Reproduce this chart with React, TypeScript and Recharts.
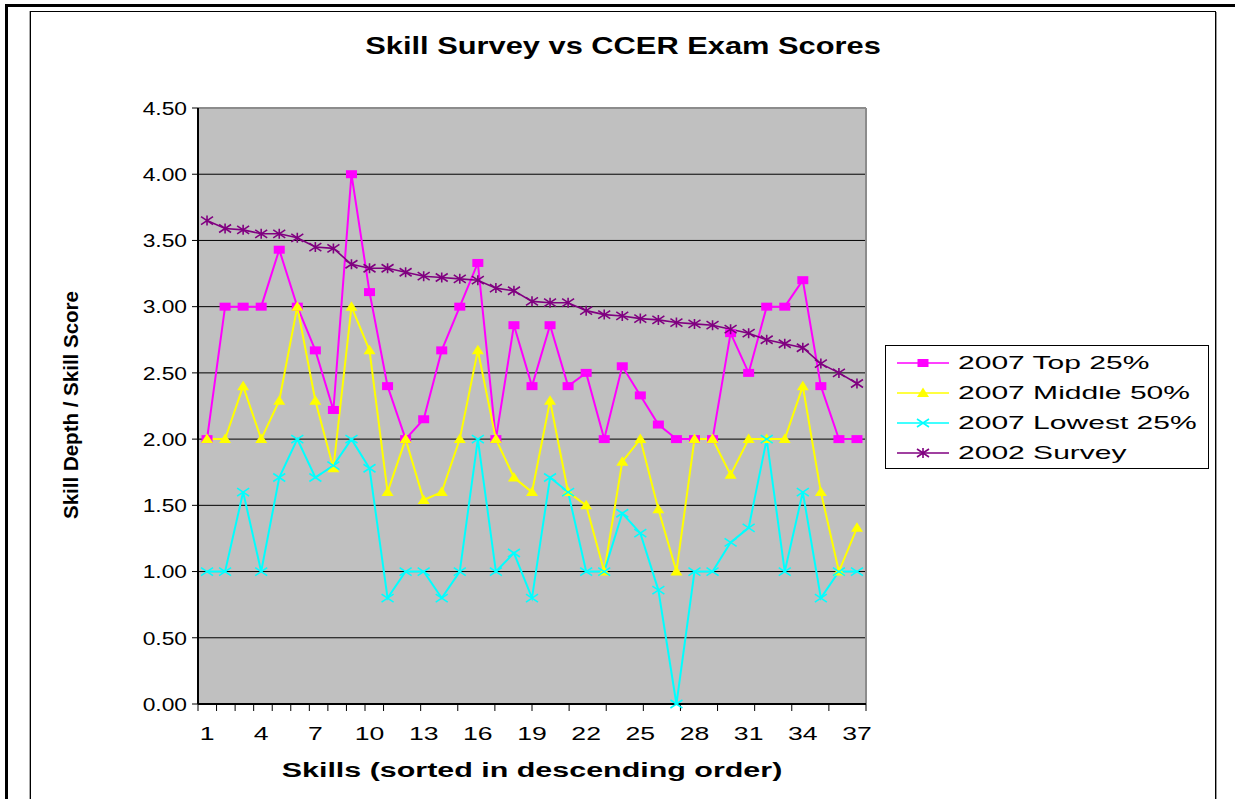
import { LineChart, Line, XAxis, YAxis, CartesianGrid, Legend, ReferenceLine } from "recharts";

const skills = ["1", "2", "3", "4", "5", "6", "7", "8", "9", "10", "11", "12", "13", "14", "15", "16", "17", "18", "19",
  "20", "21", "22", "23", "24", "25", "26", "27", "28", "29", "30", "31", "32", "33", "34", "35", "36", "37"];
const top25 = [2.0, 3.0, 3.0, 3.0, 3.43, 3.0, 2.67, 2.22, 4.0, 3.11, 2.4, 2.0, 2.15, 2.67, 3.0, 3.33, 2.0, 2.86, 2.4,
  2.86, 2.4, 2.5, 2.0, 2.55, 2.33, 2.11, 2.0, 2.0, 2.0, 2.8, 2.5, 3.0, 3.0, 3.2, 2.4, 2.0, 2.0];
const middle50 = [2.0, 2.0, 2.4, 2.0, 2.29, 3.0, 2.29, 1.78, 3.0, 2.67, 1.6, 2.0, 1.54, 1.6, 2.0, 2.67, 2.0, 1.71, 1.6,
  2.29, 1.6, 1.5, 1.0, 1.83, 2.0, 1.47, 1.0, 2.0, 2.0, 1.73, 2.0, 2.0, 2.0, 2.4, 1.6, 1.0, 1.33];
const lowest25 = [1.0, 1.0, 1.6, 1.0, 1.71, 2.0, 1.71, 1.8, 2.0, 1.78, 0.8, 1.0, 1.0, 0.8, 1.0, 2.0, 1.0, 1.14, 0.8,
  1.71, 1.6, 1.0, 1.0, 1.44, 1.29, 0.86, 0.0, 1.0, 1.0, 1.22, 1.33, 2.0, 1.0, 1.6, 0.8, 1.0, 1.0];
const survey2002 = [3.65, 3.59, 3.58, 3.55, 3.55, 3.52, 3.45, 3.44, 3.32, 3.29, 3.29, 3.26, 3.23, 3.22, 3.21, 3.2, 3.14,
  3.12, 3.04, 3.03, 3.03, 2.97, 2.94, 2.93, 2.91, 2.9, 2.88, 2.87, 2.86, 2.83, 2.8, 2.75, 2.72, 2.69, 2.57, 2.5, 2.42];
const yTicks = [0, 0.5, 1, 1.5, 2, 2.5, 3, 3.5, 4, 4.5];
const seriesOrder = ["top", "middle", "lowest", "survey"];
const labelEvery = 3;

const data = skills.map((s, i) => ({
  skill: s, top: top25[i], middle: middle50[i], lowest: lowest25[i], survey: survey2002[i],
}));
// small tick marks along the bottom edge
const edgeTicks = skills.map((_, i) => i);
const edgeDomain = [0, skills.length];
const yDomain = [0, 4.5];
const lastSkill = skills[skills.length - 1];

const FONT = '"Liberation Sans", Arial, sans-serif';
const MAGENTA = "#FF00FF", YELLOW = "#FFFF00", CYAN = "#00FFFF", PURPLE = "#800080";

function SquareDot({ cx, cy }: any) {
  if (cx == null || cy == null) return null;
  return <rect x={cx - 5.5} y={cy - 4} width={11} height={8} fill={MAGENTA} />;
}
function TriangleDot({ cx, cy }: any) {
  if (cx == null || cy == null) return null;
  return <polygon points={`${cx},${cy - 5.5} ${cx + 6},${cy + 4} ${cx - 6},${cy + 4}`} fill={YELLOW} />;
}
function CrossDot({ cx, cy }: any) {
  if (cx == null || cy == null) return null;
  return <path d={`M${cx - 6},${cy - 4}L${cx + 6},${cy + 4}M${cx - 6},${cy + 4}L${cx + 6},${cy - 4}`}
               stroke={CYAN} strokeWidth={1.6} fill="none" />;
}
function StarDot({ cx, cy }: any) {
  if (cx == null || cy == null) return null;
  return <path d={`M${cx - 6},${cy - 4}L${cx + 6},${cy + 4}M${cx - 6},${cy + 4}L${cx + 6},${cy - 4}M${cx},${cy - 5}L${cx},${cy + 5}`}
               stroke={PURPLE} strokeWidth={1.6} fill="none" />;
}

const markers: Record<string, any> = { top: SquareDot, middle: TriangleDot, lowest: CrossDot, survey: StarDot };

function YTick({ x, y, payload }: any) {
  return (
    <text transform={`translate(${x},${y}) scale(1.2,1)`} textAnchor="end" dy="0.355em"
          fontSize={19} fontFamily={FONT} fill="#000">
      {Number(payload.value).toFixed(2)}
    </text>
  );
}

// category labels: the axis is mirrored onto the plot bottom, labels hang 23px below it
function XTick({ x, y, payload, index }: any) {
  const i = payload?.index ?? index;
  if (i % labelEvery !== 0) return null;
  return (
    <text transform={`translate(${x},${y + 23}) scale(1.4,1)`} textAnchor="middle" dy="0.71em"
          fontSize={19} fontFamily={FONT} fill="#000">
      {payload.value}
    </text>
  );
}
function NoTick() {
  return null;
}

function LegendBox({ payload }: any) {
  const items = [...(payload || [])].sort((a: any, b: any) => seriesOrder.indexOf(a.dataKey) - seriesOrder.indexOf(b.dataKey));
  return (
    <div style={{ width: 322, height: 120, border: "1px solid #000", background: "#fff", paddingTop: 2, boxSizing: "content-box" }}>
      {items.map((p: any) => {
        const M = markers[p.dataKey];
        return (
          <div key={p.dataKey} style={{ height: 30, display: "flex", alignItems: "center", whiteSpace: "nowrap" }}>
            <svg width={72} height={30} style={{ flex: "none" }}>
              <line x1={11} x2={63} y1={15} y2={15} stroke={p.color} strokeWidth={1.5} />
              <M cx={37} cy={15} />
            </svg>
            <span style={{ fontFamily: FONT, fontSize: 19, color: "#000", display: "inline-block",
                           transform: "scaleX(1.58)", transformOrigin: "left center" }}>{p.value}</span>
          </div>
        );
      })}
    </div>
  );
}

const xTick = <XTick />;
const yTick = <YTick />;
const noTick = <NoTick />;

export default function App() {
  return (
    <div style={{ position: "absolute", left: 0, top: 0, width: 1235, height: 799, background: "#fff", overflow: "hidden" }}>
      <div style={{ position: "absolute", left: 5, top: 4, width: 1300, height: 900, borderLeft: "3px solid #000", borderTop: "3px solid #000" }} />
      <div style={{ position: "absolute", left: 30, top: 11, width: 1184, height: 900, border: "1px solid #000", boxShadow: "1px 1px 0 #999, -1px 0 0 #aaa" }} />
      <div style={{ position: "absolute", left: 0, top: 0 }}>
        <LineChart width={1235} height={799} data={data} margin={{ top: 108, right: 369, bottom: 35, left: 0 }}>
          <CartesianGrid xAxisId="cat" vertical={false} stroke="#000" fill="#C0C0C0" />
          <XAxis xAxisId="edges" type="number" domain={edgeDomain} ticks={edgeTicks} allowDataOverflow
                 tick={noTick} tickSize={7} height={60} axisLine={false} tickLine={{ stroke: "#000" }} />
          <XAxis xAxisId="cat" dataKey="skill" scale="band" interval={0} mirror tickLine={false}
                 axisLine={false} tickSize={0} tickMargin={0} height={1} tick={xTick} />
          <YAxis domain={yDomain} ticks={yTicks} width={198} tickSize={6} tickMargin={5}
                 axisLine={{ stroke: "#000", strokeWidth: 2 }} tickLine={{ stroke: "#000" }} tick={yTick} />
          <ReferenceLine xAxisId="cat" y={4.5} stroke="#8c8c8c" strokeWidth={2} />
          <ReferenceLine xAxisId="cat" x={lastSkill} position="end" stroke="#8c8c8c" strokeWidth={2} />
          <ReferenceLine xAxisId="cat" y={0} stroke="#000" strokeWidth={2} />
          <Line xAxisId="cat" dataKey="top" name="2007 Top 25%" stroke={MAGENTA} strokeWidth={2} dot={<SquareDot />} isAnimationActive={false} />
          <Line xAxisId="cat" dataKey="middle" name="2007 Middle 50%" stroke={YELLOW} strokeWidth={2} dot={<TriangleDot />} isAnimationActive={false} />
          <Line xAxisId="cat" dataKey="lowest" name="2007 Lowest 25%" stroke={CYAN} strokeWidth={2} dot={<CrossDot />} isAnimationActive={false} />
          <Line xAxisId="cat" dataKey="survey" name="2002 Survey" stroke={PURPLE} strokeWidth={1.6} dot={<StarDot />} isAnimationActive={false} />
          <Legend layout="vertical" align="center" verticalAlign="middle" content={<LegendBox />}
                  wrapperStyle={{ position: "absolute", left: 885, top: 345, width: 324, height: 122, margin: 0 }} />
        </LineChart>
      </div>
      <svg width={1235} height={799} style={{ position: "absolute", left: 0, top: 0, pointerEvents: "none" }}>
        <text transform="translate(623,54) scale(1.34,1)" textAnchor="middle" fontFamily={FONT} fontWeight="bold" fontSize={23}>
          Skill Survey vs CCER Exam Scores
        </text>
        <text transform="translate(532,777) scale(1.45,1)" textAnchor="middle" fontFamily={FONT} fontWeight="bold" fontSize={21}>
          Skills (sorted in descending order)
        </text>
        <text transform="translate(78,405) rotate(-90) scale(1.08,1.1)" textAnchor="middle" fontFamily={FONT} fontWeight="bold" fontSize={19}>
          Skill Depth / Skill Score
        </text>
      </svg>
    </div>
  );
}
